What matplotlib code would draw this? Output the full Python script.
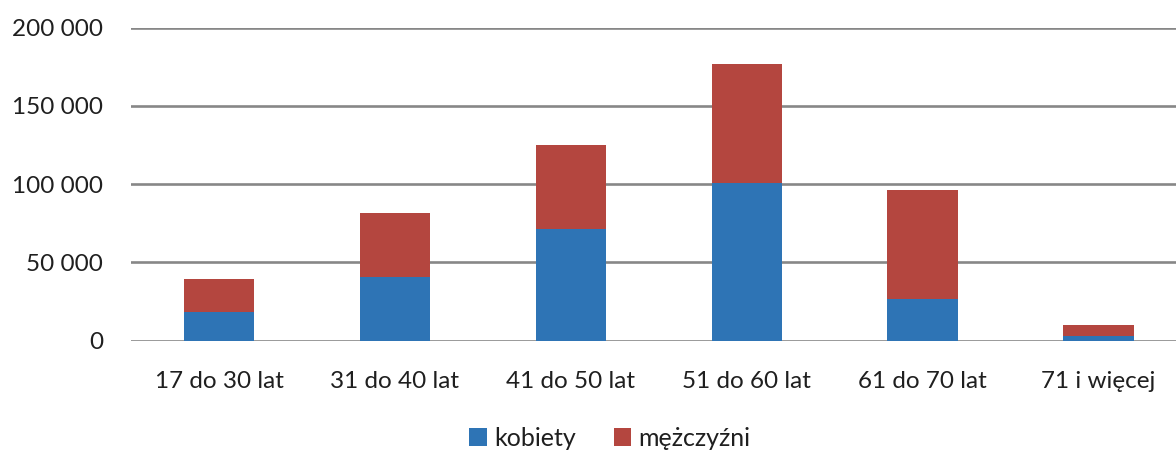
import matplotlib.pyplot as plt
import matplotlib.ticker as mticker

plt.rcParams["font.family"] = ["Lato", "DejaVu Sans"]

categories = ["17 do 30 lat", "31 do 40 lat", "41 do 50 lat", "51 do 60 lat", "61 do 70 lat", "71 i więcej"]
kobiety = [18500, 40500, 71400, 100600, 26600, 3200]
mezczyzni_total = [39400, 81800, 124900, 176600, 96100, 9800]
mezczyzni = [t - k for t, k in zip(mezczyzni_total, kobiety)]

blue = "#2e74b5"
red = "#b4463f"

fig = plt.figure(figsize=(11.76, 4.5), dpi=100)
ax = fig.add_axes([131 / 1176, 109.3 / 450, 1045 / 1176, 313 / 450])

x = range(len(categories))
ax.bar(x, kobiety, width=0.4, color=blue, label="kobiety", zorder=3)
ax.bar(x, mezczyzni, width=0.4, bottom=kobiety, color=red, label="mężczyźni", zorder=3)

ax.set_xlim(-0.5, 5.44)
ax.set_ylim(0, 200000)
ax.set_yticks(range(0, 200001, 50000))
ax.yaxis.set_major_formatter(mticker.FuncFormatter(lambda v, p: f"{int(v):,}".replace(",", " ")))
ax.set_xticks(list(x))
ax.set_xticklabels(categories)

ax.grid(axis="y", color="#878787", linewidth=1.9, zorder=0)
for s in ax.spines.values():
    s.set_visible(False)
ax.tick_params(axis="both", length=0, labelsize=17.5, colors="#1f1f1f")
ax.tick_params(axis="y", pad=20)
ax.tick_params(axis="x", pad=22)

fig.legend(loc="center", bbox_to_anchor=(610 / 1176, 1 - 438 / 450), ncol=2, frameon=False,
           fontsize=18, handlelength=0.7, handleheight=0.7, handletextpad=0.3, columnspacing=1.5,
           labelcolor="#1f1f1f")

fig.savefig("out.png", dpi=100)
